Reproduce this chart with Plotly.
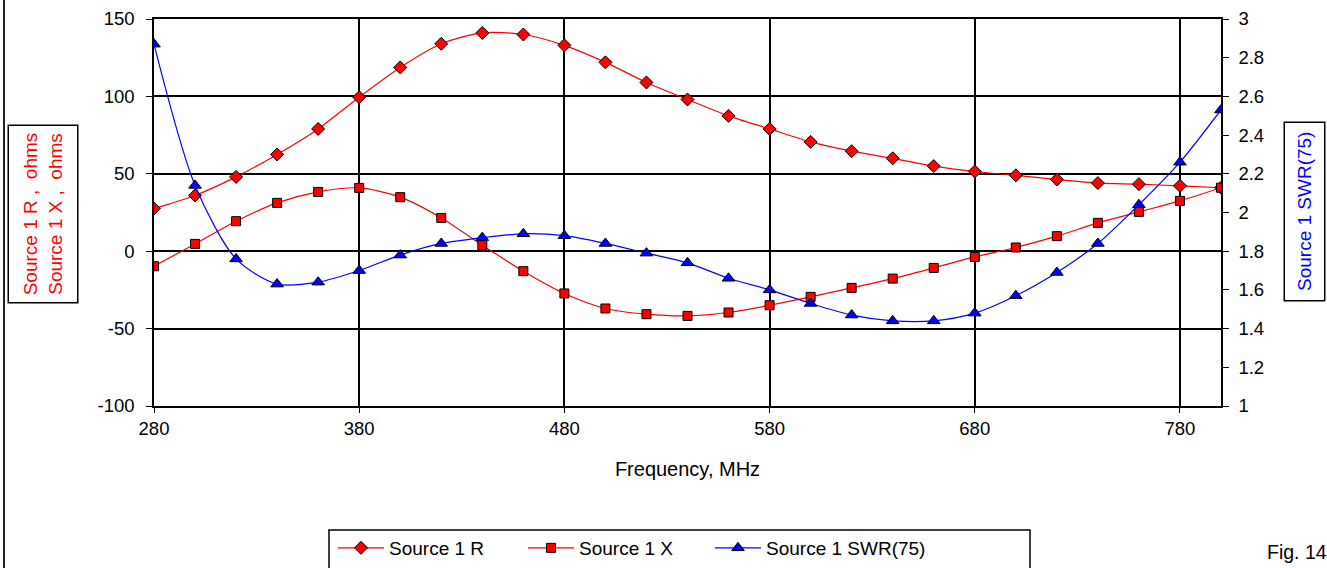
import plotly.graph_objects as go

freq = [280, 300, 320, 340, 360, 380, 400, 420, 440, 460, 480, 500, 520, 540,
        560, 580, 600, 620, 640, 660, 680, 700, 720, 740, 760, 780, 800]
r_ohms = [27.6, 36, 48, 62.5, 79, 99.5, 118.7, 134, 141, 140, 133, 122, 109, 98,
          87.4, 79, 70.6, 64.6, 60, 55, 51.5, 49, 46.3, 44, 43.3, 42.2, 41]
x_ohms = [-9.7, 4.7, 19.4, 31.2, 38.3, 40.9, 34.9, 21.5, 3.9, -12.9, -27.3, -37, -40.7, -41.8,
          -39.6, -34.9, -29.5, -23.7, -17.7, -10.8, -3.7, 2.4, 9.7, 18.3, 25.4, 32.5, 41]
swr = [2.87, 2.14, 1.76, 1.63, 1.64, 1.70, 1.78, 1.84, 1.87, 1.89, 1.88, 1.84, 1.79, 1.74,
       1.66, 1.60, 1.53, 1.47, 1.44, 1.44, 1.48, 1.57, 1.69, 1.84, 2.04, 2.26, 2.53]
x_ticks = [280, 380, 480, 580, 680, 780]
y_ticks = [-100, -50, 0, 50, 100, 150]
y2_ticks = [1, 1.2, 1.4, 1.6, 1.8, 2, 2.2, 2.4, 2.6, 2.8, 3]

FONT = "Liberation Sans, Arial, sans-serif"
W, H = 1327, 568
L, R, T, B = 154, 106, 19, 162
PW, PH = W - L - R, H - T - B


def px(x):
    return (x - L) / PW


def py(y):
    return (H - B - y) / PH


fig = go.Figure()
fig.add_trace(go.Scatter(
    x=freq, y=r_ohms, name="Source 1 R", mode="lines+markers", legend="legend",
    line=dict(color="#ff0000", width=1.2, shape="spline", smoothing=0.8),
    marker=dict(symbol="diamond", size=10, color="#ff0000", line=dict(color="black", width=1)),
))
fig.add_trace(go.Scatter(
    x=freq, y=x_ohms, name="Source 1 X", mode="lines+markers", legend="legend2",
    line=dict(color="#ff0000", width=1.2, shape="spline", smoothing=0.8),
    marker=dict(symbol="square", size=9, color="#ff0000", line=dict(color="black", width=1)),
))
fig.add_trace(go.Scatter(
    x=freq, y=swr, name="Source 1 SWR(75)", mode="lines+markers", yaxis="y2", legend="legend3",
    line=dict(color="#0000ff", width=1.2, shape="spline", smoothing=0.8),
    marker=dict(symbol="triangle-up", size=11, color="#0000ff", line=dict(color="black", width=1)),
))

axis_font = dict(family=FONT, size=18.5, color="black")


def leg(xpix):
    return dict(
        orientation="h", x=px(xpix), xanchor="left", y=py(548), yanchor="middle",
        font=dict(family=FONT, size=19, color="black"),
        bgcolor="rgba(0,0,0,0)", borderwidth=0, itemwidth=46,
    )


fig.update_layout(
    width=W, height=H,
    margin=dict(l=L, r=R, t=T, b=B, pad=0, autoexpand=False),
    paper_bgcolor="white", plot_bgcolor="white",
    font=dict(family=FONT, size=18, color="black"),
    showlegend=True,
    legend=leg(333), legend2=leg(523), legend3=leg(710),
    xaxis=dict(
        range=[280, 800], tickvals=x_ticks, ticktext=[str(v) for v in x_ticks],
        showgrid=True, gridcolor="black", gridwidth=1.5,
        showline=True, linecolor="black", linewidth=1.5, mirror=True,
        ticks="outside", ticklen=5, tickcolor="black", tickfont=axis_font,
        zeroline=False, automargin=False,
        title=dict(text="Frequency, MHz", font=dict(family=FONT, size=20), standoff=24),
    ),
    yaxis=dict(
        range=[-100, 150], tickvals=y_ticks, ticktext=[str(v) for v in y_ticks],
        showgrid=True, gridcolor="black", gridwidth=1.5,
        zeroline=True, zerolinecolor="black", zerolinewidth=1.5,
        showline=True, linecolor="black", linewidth=1.5,
        ticks="outside", ticklen=6, tickcolor="black", tickfont=axis_font,
        ticklabelstandoff=8, automargin=False,
    ),
    yaxis2=dict(
        range=[1, 3], tickvals=y2_ticks, ticktext=[f"{v:g}" for v in y2_ticks],
        overlaying="y", side="right", showgrid=False, zeroline=False,
        showline=True, linecolor="black", linewidth=1.5,
        ticks="outside", ticklen=6, tickcolor="black", tickfont=axis_font,
        ticklabelstandoff=6, automargin=False,
    ),
)

fig.add_annotation(
    text="Source 1 R ,  ohms<br>Source 1 X ,  ohms", xref="paper", yref="paper",
    x=px(42.5), y=py(214), xanchor="center", yanchor="middle", textangle=-90,
    showarrow=False, font=dict(family=FONT, size=19, color="#ff0000"),
    bordercolor="black", borderwidth=1.5, borderpad=4, bgcolor="white",
    width=168, height=60,
)
fig.add_annotation(
    text="Source 1 SWR(75)", xref="paper", yref="paper",
    x=px(1304.5), y=py(212), xanchor="center", yanchor="middle", textangle=-90,
    showarrow=False, font=dict(family=FONT, size=19, color="#0000ff"),
    bordercolor="black", borderwidth=1.5, borderpad=9, bgcolor="white",
)
fig.add_annotation(
    text="Fig. 14", xref="paper", yref="paper",
    x=px(1265), y=py(552), xanchor="left", yanchor="middle",
    showarrow=False, font=dict(family=FONT, size=19.5, color="black"),
)

# chart-area left border and legend frame
fig.add_shape(type="line", xref="paper", yref="paper",
              x0=px(4), x1=px(4), y0=py(-5), y1=py(575),
              line=dict(color="#222222", width=2))
fig.add_shape(type="rect", xref="paper", yref="paper",
              x0=px(329), x1=px(1030), y0=py(530), y1=py(580),
              line=dict(color="black", width=1.5), layer="below")

fig.write_html(
    "out.html",
    config={"displayModeBar": False},
    post_script="document.body.style.margin='0px';document.body.style.overflow='hidden';",
)
